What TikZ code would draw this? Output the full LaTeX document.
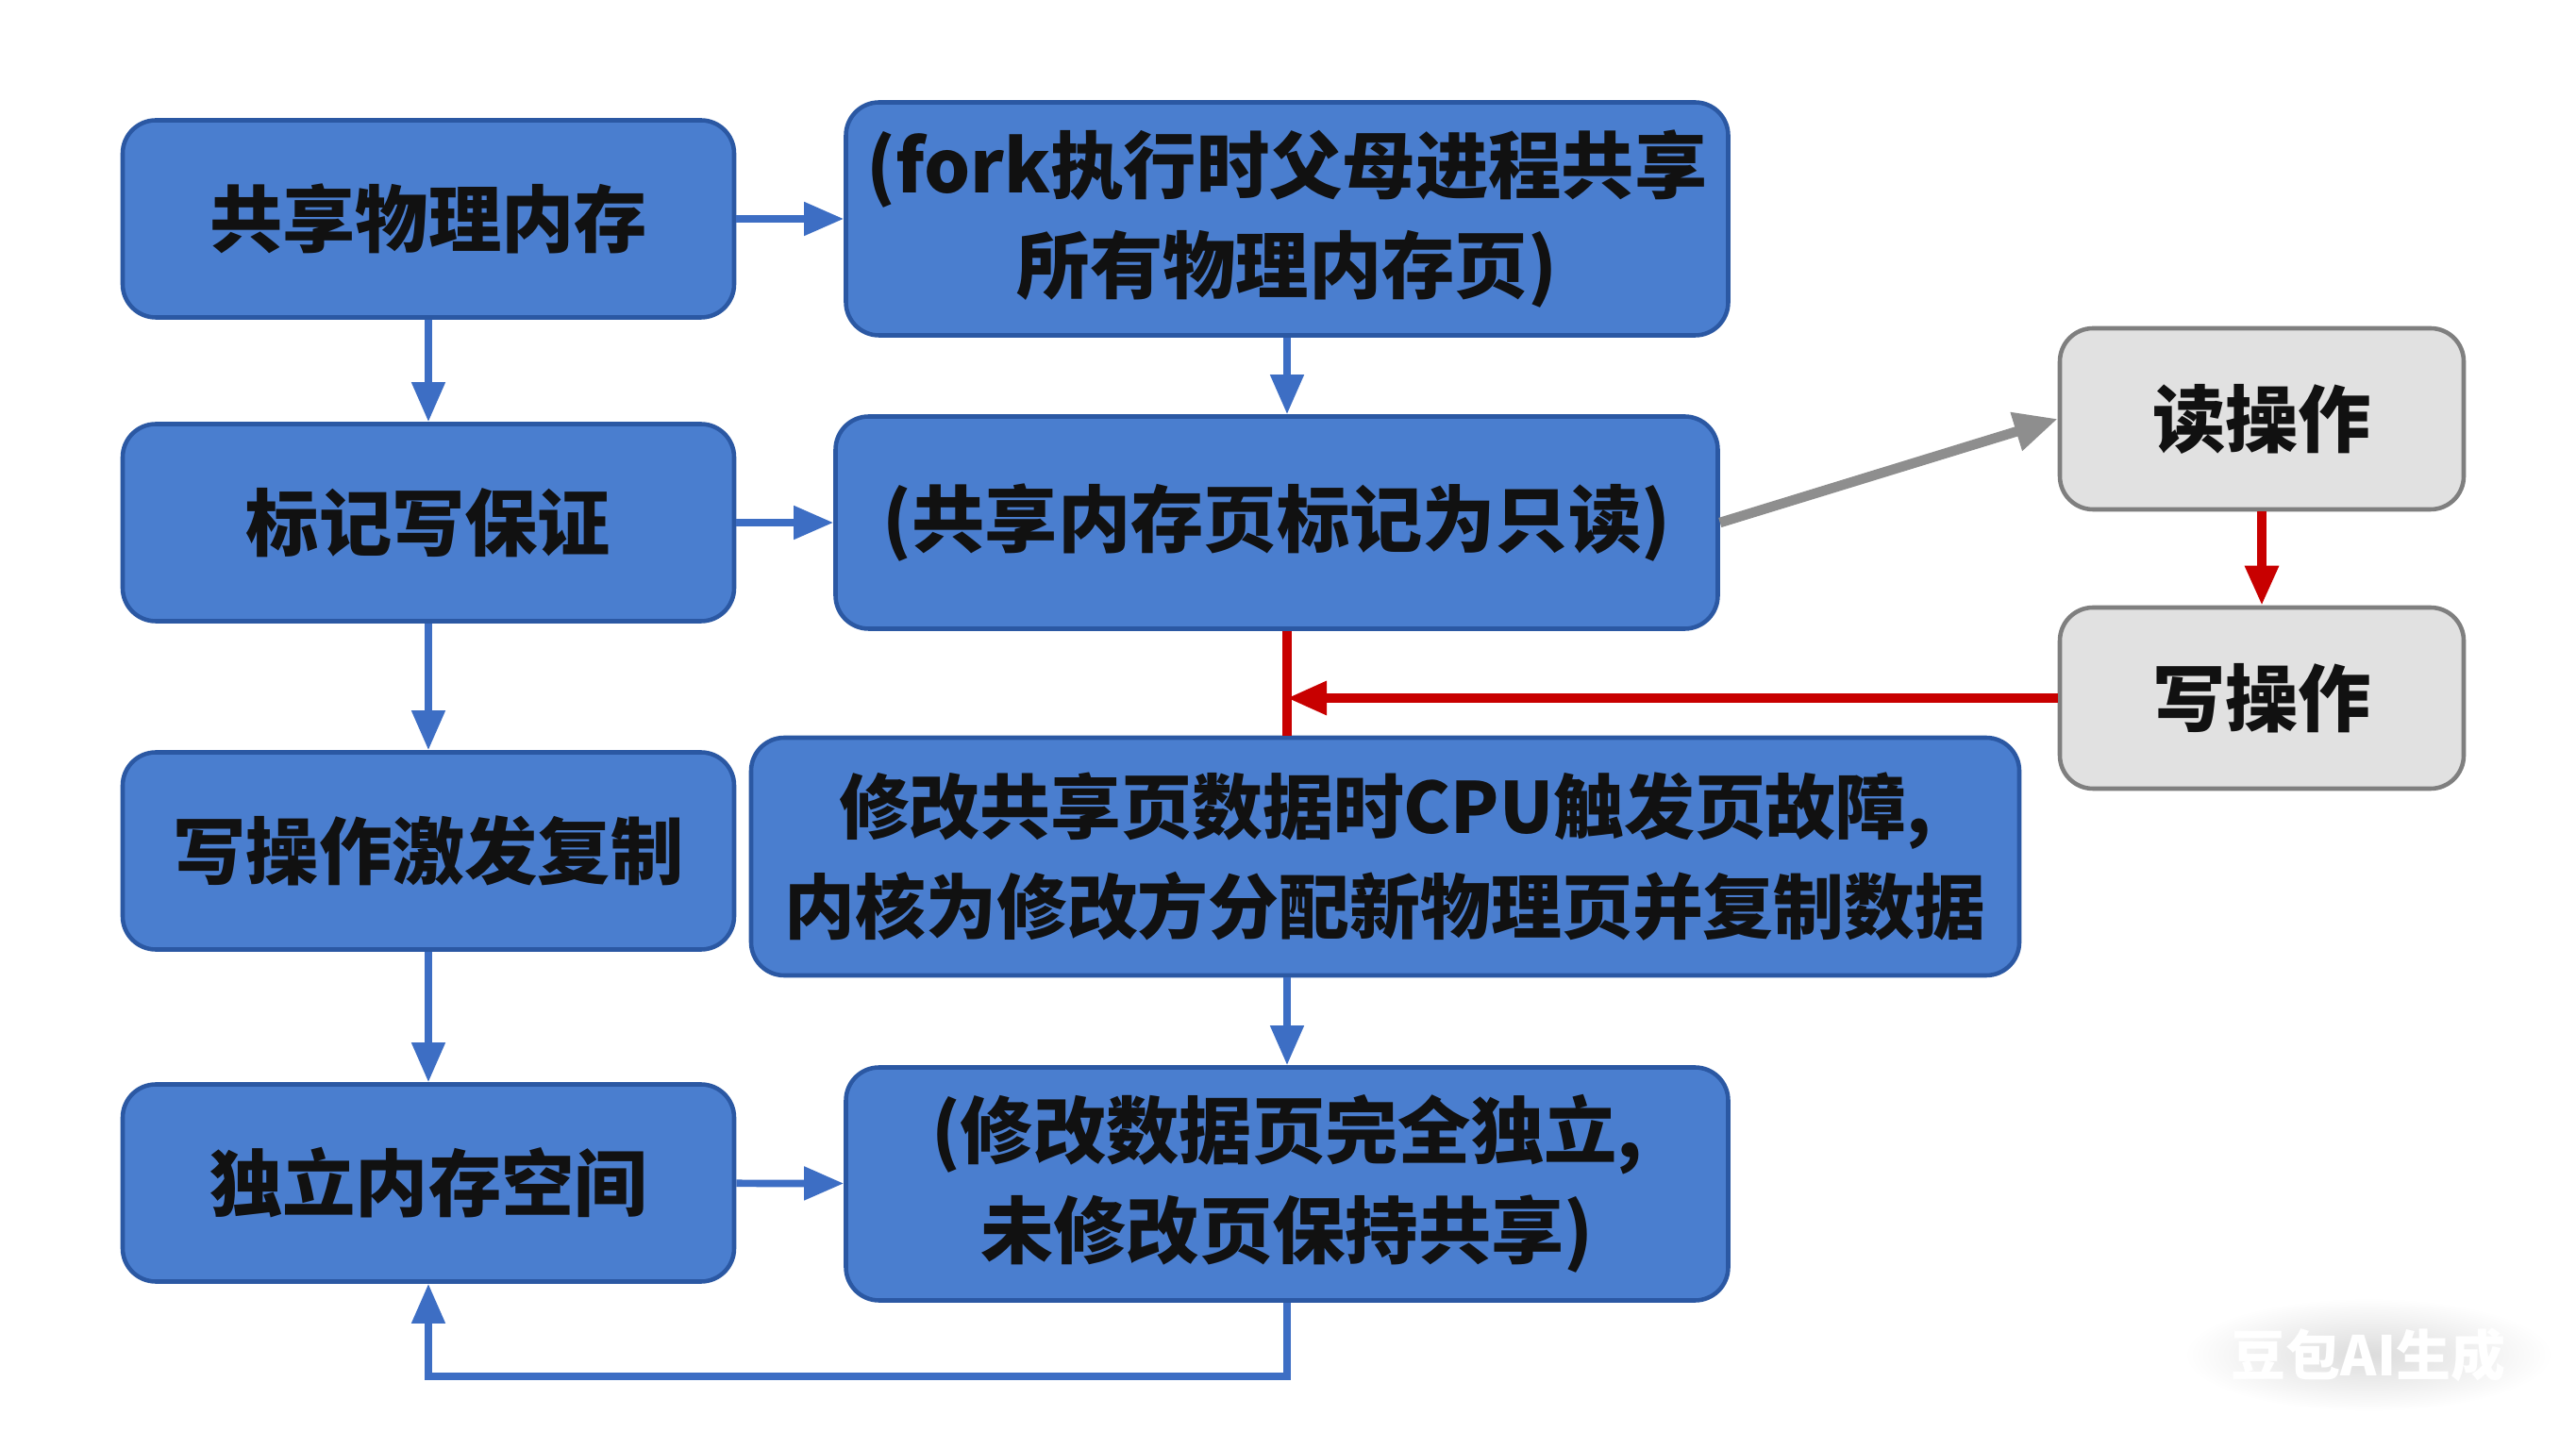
\documentclass[tikz,border=0pt]{standalone}
\usepackage{fontspec}
\setmainfont{Noto Sans CJK SC}
\usetikzlibrary{arrows.meta,calc}
\definecolor{inkDark}{HTML}{111111}
\definecolor{stepFill}{HTML}{4A7ECF}
\definecolor{stepEdge}{HTML}{2B58A3}
\definecolor{flowBlue}{HTML}{3D6EC4}
\definecolor{opFill}{HTML}{E1E1E1}
\definecolor{opEdge}{HTML}{7F7F7F}
\definecolor{readGrey}{HTML}{8E8E8E}
\definecolor{writeRed}{HTML}{C80000}

\begin{document}
\begin{tikzpicture}[
  font=\fontsize{22}{30}\selectfont\bfseries,
  box/.style={
    rectangle, rounded corners=10pt, draw, line width=1.3pt,
    align=center, inner sep=4pt, text=inkDark},
  stage/.style={box, fill=stepFill, draw=stepEdge,
                minimum width=6.48cm, minimum height=2.09cm},
  detail/.style={box, fill=stepFill, draw=stepEdge,
                 minimum width=9.35cm, minimum height=2.47cm},
  access/.style={box, fill=opFill, draw=opEdge,
                 minimum width=4.28cm, minimum height=1.92cm},
  flow/.style={-{Triangle[length=4.2mm,width=3.4mm]}, line width=2.2pt, draw=flowBlue},
  readflow/.style={-{Triangle[length=4.6mm,width=4mm]}, line width=3pt, draw=readGrey},
  writeflow/.style={-{Triangle[length=4.2mm,width=3.4mm]}, line width=2.6pt, draw=writeRed},
  writeline/.style={line width=2.6pt, draw=writeRed},
]
\useasboundingbox[fill=white] (0,0) rectangle (27.30,15.35);

% =============================== nodes =====================================
\node[stage]  at (4.54,13.03)  (share)  {共享物理内存};
\node[detail] at (13.64,13.03) (forkall) {(fork执行时父母进程共享\\所有物理内存页)};

\node[stage]  at (4.54,9.81)   (mark)   {标记写保证};
\node[detail, minimum height=2.25cm]
              at (13.53,9.81)  (ronly)  {(共享内存页标记为只读)};

\node[access] at (23.97,10.91) (rd)     {读操作};
\node[access] at (23.97,7.95)  (wr)     {写操作};

\node[stage]  at (4.54,6.33)   (cow)    {写操作激发复制};
\node[detail, minimum width=13.44cm, minimum height=2.52cm,
      font=\fontsize{21.3}{30}\selectfont\bfseries]
              at (14.68,6.27)  (fault)  {修改共享页数据时CPU触发页故障,\\内核为修改方分配新物理页并复制数据};

\node[stage]  at (4.54,2.81)   (indep)  {独立内存空间};
\node[detail] at (13.64,2.80)  (split)  {(修改数据页完全独立,\\未修改页保持共享)};

% watermark
\shade[inner color=gray!28, outer color=white] (25.10,0.99) ellipse (1.95 and 0.6);
\node[font=\fontsize{16.5}{17}\selectfont\bfseries, text=white]
              at (25.10,0.99)  (mark2)  {豆包AI生成};

% =============================== flows =====================================
% left column, top to bottom
\draw[flow] (share) -- (mark);
\draw[flow] (mark) -- (cow);
\draw[flow] (cow) -- (indep);

% left column -> details
\draw[flow] (share) -- (forkall);
\draw[flow] (mark) -- (ronly);
\draw[flow] (indep) -- (split);

% details, top to bottom
\draw[flow] (forkall.south) -- (forkall.south |- ronly.north);
\draw[flow] (fault.south -| split.north) -- (split.north);

% read-only page -> read
\draw[readflow] (ronly.east) -- (rd.west);

% read -> write -> back onto the read-only page
\draw[writeflow] (rd) -- (wr);
\draw[writeline] (forkall.south |- ronly.south) -- (forkall.south |- fault.north);
\draw[writeflow] (wr.west) -- (wr.west -| forkall.south);

% independent pages loop back, along the bottom
\draw[flow] (split.south) -- ++(0,-0.78) -| (indep.south);

\end{tikzpicture}
\end{document}
